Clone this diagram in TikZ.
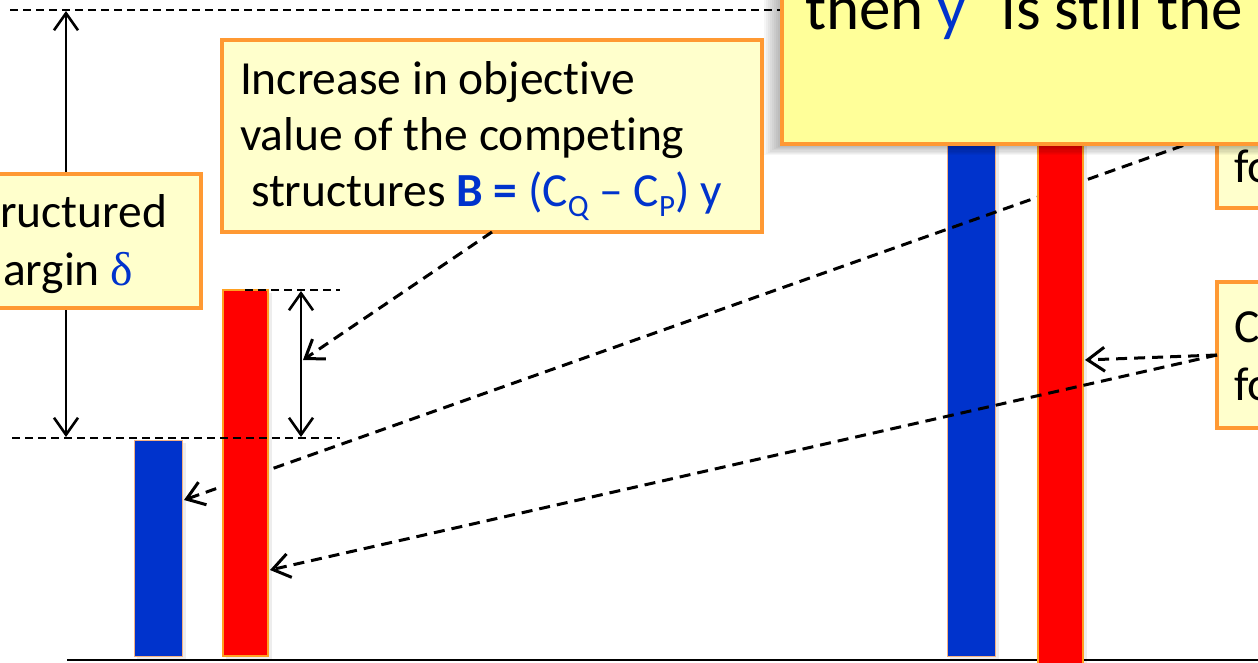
\documentclass[tikz,border=0pt]{standalone}
\usepackage{fontspec}
\setmainfont{Carlito}[Ligatures={NoCommon}]
\newfontfamily\symf{Liberation Serif}
\usetikzlibrary{arrows.meta}
\definecolor{barblue}{HTML}{0033CC}
\definecolor{txtblue}{HTML}{0033CC}
\definecolor{barred}{HTML}{FF0000}
\definecolor{boxfill}{HTML}{FFFFCC}
\definecolor{bigfill}{HTML}{FFFF99}
\definecolor{boxline}{HTML}{FF9933}
\definecolor{blueedge}{HTML}{F4B183}
\definecolor{rededge}{HTML}{FFA020}
\begin{document}
\begin{tikzpicture}[x=1pt,y=-1pt,
  bluebar/.style={draw=blueedge, line width=1pt, fill=barblue, inner sep=0pt, outer sep=0pt, anchor=north west},
  redbar/.style={draw=rededge, line width=1.2pt, fill=barred, inner sep=0pt, outer sep=0pt, anchor=north west},
  barshadow/.style={fill=black, opacity=0.07},
  note/.style={draw=boxline, line width=4pt, fill=boxfill, inner sep=0pt, outer sep=0pt},
  bignote/.style={draw=boxline, line width=4pt, fill=bigfill, inner sep=0pt, outer sep=0pt},
  txt/.style={inner sep=0pt, outer sep=0pt, anchor=base west, font=\fontsize{47.5}{57}\selectfont},
  bigtxt/.style={inner sep=0pt, outer sep=0pt, anchor=base west, font=\fontsize{63}{72}\selectfont},
  guide/.style={draw=black, line width=1.6pt, dash pattern=on 8pt off 5pt},
  dimarrow/.style={draw=black, line width=2.6pt, {Straight Barb[length=17pt,width=24pt]}-{Straight Barb[length=17pt,width=24pt]}},
  conn/.style={draw=black, line width=3pt, dash pattern=on 11pt off 7pt, -{Straight Barb[length=17pt,width=24pt]}},
]
\useasboundingbox (0,0) rectangle (1258,663);
\clip (0,0) rectangle (1258,663);
\fill[white] (0,0) rectangle (1258,663);

% ground line
\coordinate (g0) at (67,660);
\coordinate (g1) at (1258,660);
\draw[line width=1.8pt] (g0) -- (g1);

% blue bars
\fill[barshadow] (137,443) rectangle (186,660);
\fill[barshadow] (950,0) rectangle (999,660);
\node[bluebar, minimum width=48pt, minimum height=216pt] (sb) at (134,440) {};
\node[bluebar, minimum width=48pt, minimum height=660pt] (bb) at (947,-4) {};

% boxes on the right (under the big box)
\node[note, minimum width=80pt, minimum height=140pt, anchor=south west] (fo) at (1217,208) {};
\node[txt] (fot) at (1234,183) {fo};
\node[note, minimum width=80pt, minimum height=146pt, anchor=north west] (cb) at (1217,282) {};
\node[txt] (cbt1) at (1234,342) {C};
\node[txt] (cbt2) at (1234,400) {fo};

% connector to small blue bar (passes under red bars)
\coordinate (foL) at (1217,133.5);
\coordinate (sbp) at (184,500);
\draw[conn] (foL) -- (sbp);

% red bars
\fill[barshadow] (226,293) rectangle (272,660);
\fill[barshadow] (1041,0) rectangle (1087,663);
\node[redbar, minimum width=45pt, minimum height=366pt] (sr) at (223,290) {};
\node[redbar, minimum width=45pt, minimum height=670pt] (br) at (1038,-4) {};

% guide lines
\coordinate (t0) at (10,10);
\coordinate (t1) at (780,10);
\draw[guide] (t0) -- (t1);
\coordinate (m0) at (12,438);
\coordinate (m1) at (340,438);
\draw[guide] (m0) -- (m1);
\coordinate (s0) at (245,290);
\coordinate (s1) at (340,290);
\draw[guide] (s0) -- (s1);

% dimension arrows
\coordinate (d1a) at (66,11);
\coordinate (d1b) at (66,437);
\draw[dimarrow] (d1a) -- (d1b);
\coordinate (d2a) at (301,291);
\coordinate (d2b) at (301,437);
\draw[dimarrow] (d2a) -- (d2b);

% connectors from the C box
\coordinate (brp) at (1085,360);
\coordinate (srp) at (270,570);
\draw[conn] (cb.west) -- (brp);
\draw[conn] (cb.west) -- (srp);

% increase box
\node[note, minimum width=540pt, minimum height=192pt, anchor=north west] (inc) at (222,40) {};
\node[txt] (inc1) at (240,95) {Increase in objective};
\node[txt] (inc2) at (240,151) {value of the competing};
\node[txt] (inc3) at (251,207) {structures {\color{txtblue}\textbf{B =} (C\raisebox{-10pt}{\fontsize{31}{31}\selectfont Q} – C\raisebox{-10pt}{\fontsize{31}{31}\selectfont P}) y}};
\coordinate (dimmid) at (303,360);
\draw[conn] (inc.south) -- (dimmid);

% left box
\node[note, minimum width=230pt, minimum height=134pt, anchor=north east] (lb) at (201,174) {};
\node[txt, anchor=base east] (lb1) at (167,228) {ructured};
\node[txt] (lb2) at (3,285) {argin {\symf\color{txtblue}δ}};

% big box with shadow
\foreach \s in {2,4,...,18} {
  \fill[black, opacity=0.035] (782-\s,-20) rectangle (1300,144.5+0.6*\s);
}
\node[bignote, minimum width=520pt, minimum height=220pt, anchor=south west] (big) at (782,144.5) {};
\node[bigtxt] (bigt) at (805,30) {then {\color{txtblue}y\raisebox{30pt}{\fontsize{42}{42}\selectfont *}} is still the};
\end{tikzpicture}
\end{document}
